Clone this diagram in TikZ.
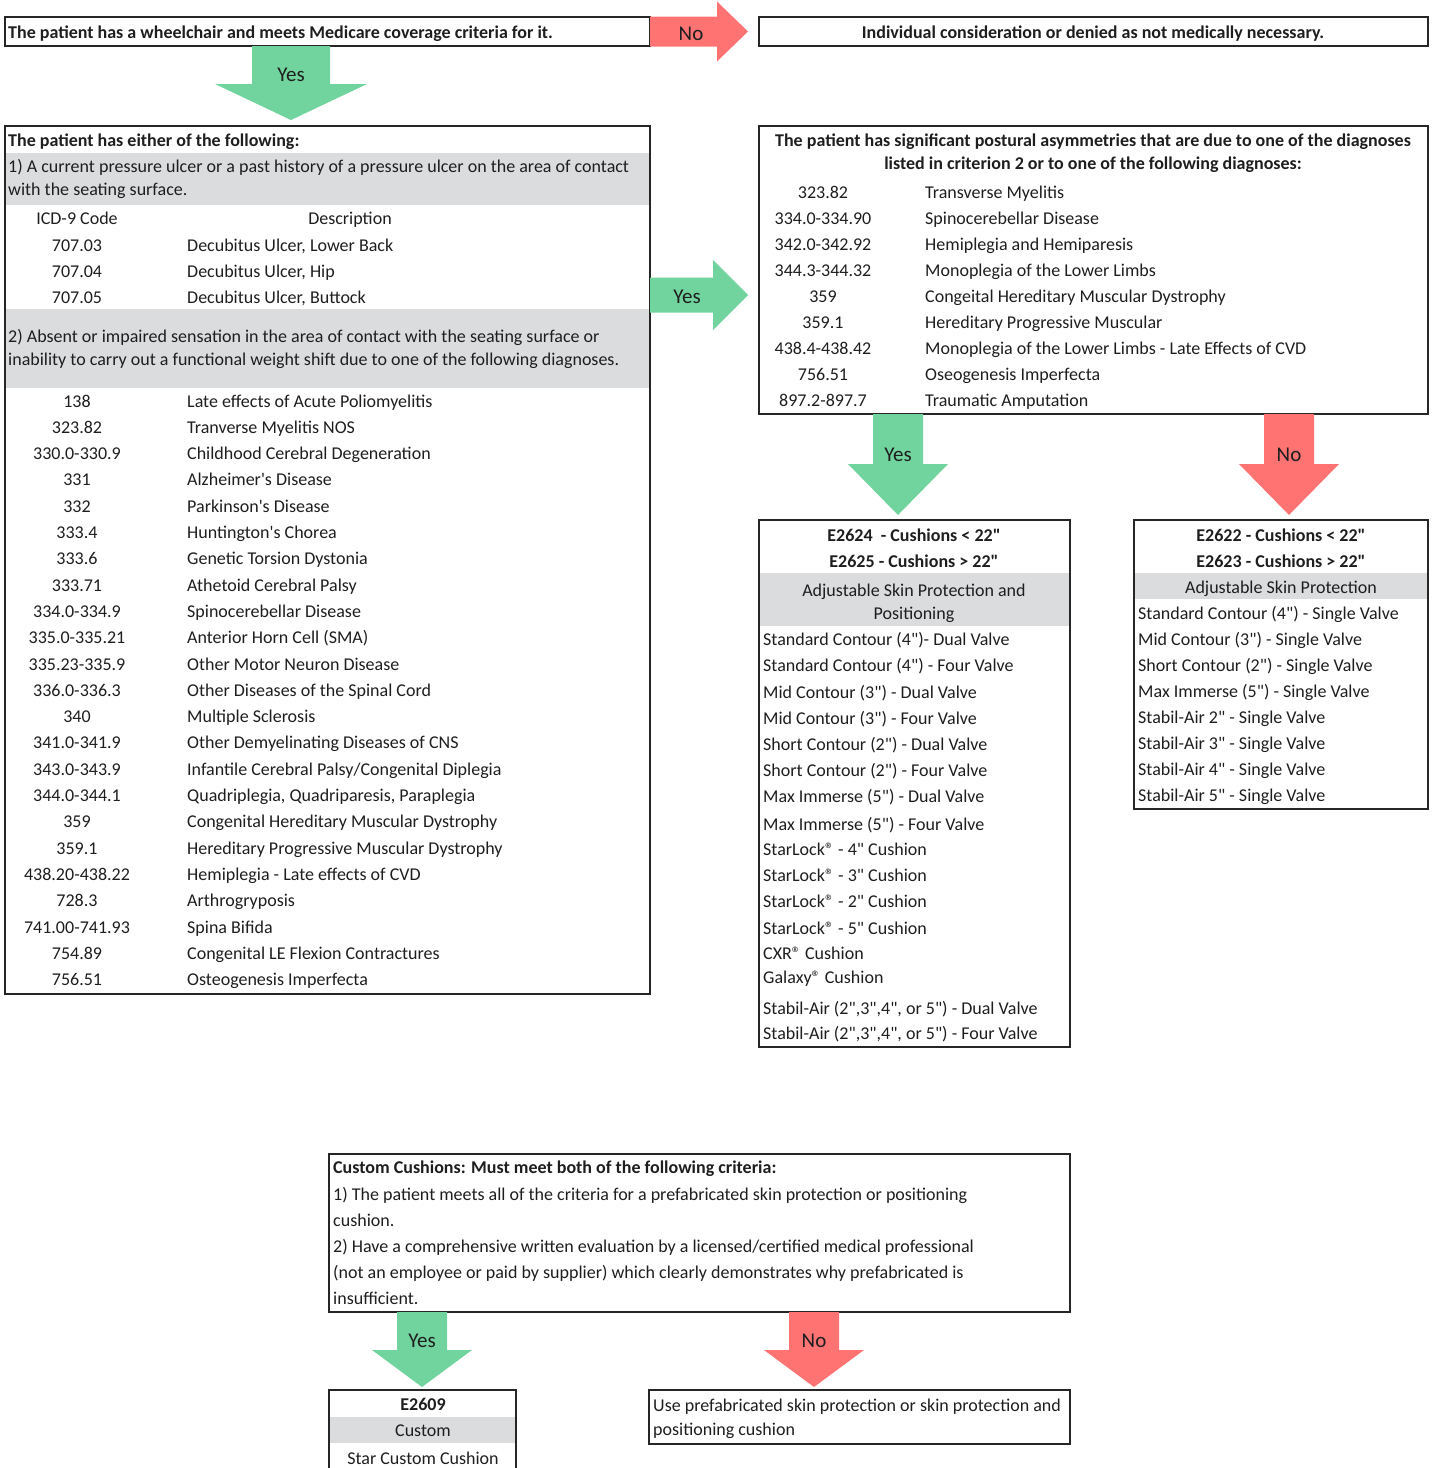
\documentclass[tikz,border=0pt]{standalone}
\usepackage{fontspec}
\setmainfont{Carlito}[Ligatures=TeXOff]
\usetikzlibrary{calc}

\definecolor{yesgreen}{RGB}{113,212,158}
\definecolor{nored}{RGB}{255,115,115}
\definecolor{bandgray}{RGB}{219,220,222}
\definecolor{inkgray}{RGB}{38,38,38}
\definecolor{textgray}{RGB}{30,30,30}

\tikzset{
  box/.style={draw=inkgray, line width=2.6pt, anchor=north west, inner sep=0pt, outer sep=0pt},
  txt/.style={anchor=base west, inner sep=0pt, text=textgray, font=\fontsize{18}{20}\selectfont},
  btxt/.style={txt, font=\fontsize{18}{20}\selectfont\bfseries},
  ctxt/.style={txt, anchor=base},
  cbtxt/.style={btxt, anchor=base},
  band/.style={fill=bandgray},
  yesfill/.style={fill=yesgreen},
  nofill/.style={fill=nored},
  arrowlabel/.style={inner sep=0pt, text=textgray, font=\fontsize{21}{23}\selectfont},
}

% fat arrows: style, start, tip, shaft half width, head half width, head length, label
\newcommand{\blockdown}[7]{%
  \fill[#1] let \p1=(#2), \p2=(#3) in
    (\x1-#4pt,\y1) -- (\x1+#4pt,\y1) -- (\x1+#4pt,\y2+#6pt) -- (\x1+#5pt,\y2+#6pt)
    -- (\x1,\y2) -- (\x1-#5pt,\y2+#6pt) -- (\x1-#4pt,\y2+#6pt) -- cycle;
  \path let \p1=(#2), \p2=(#3) in node[arrowlabel] (#2lab) at (\x1,\y2+#6pt+9pt) {#7};
}
\newcommand{\blockright}[7]{%
  \fill[#1] let \p1=(#2), \p2=(#3) in
    (\x1,\y1+#4pt) -- (\x2-#6pt,\y1+#4pt) -- (\x2-#6pt,\y1+#5pt) -- (\x2,\y1)
    -- (\x2-#6pt,\y1-#5pt) -- (\x2-#6pt,\y1-#4pt) -- (\x1,\y1-#4pt) -- cycle;
  \path let \p1=(#2), \p2=(#3) in node[arrowlabel] (#2lab) at (\x2-#6pt-26pt,\y1-2pt) {#7};
}

\begin{document}
\begin{tikzpicture}[x=1pt,y=-1pt]
  \useasboundingbox (0,0) rectangle (1433,1468);

  % gray bands
  \fill[band] (5,153) rectangle (650,205);
  \fill[band] (5,309) rectangle (650,388);
  \fill[band] (759,573) rectangle (1070,626);
  \fill[band] (1134,573) rectangle (1428,599);
  \fill[band] (329,1417) rectangle (516,1443);

  % boxes
  \node[box, minimum width=645, minimum height=29] (wheel) at (5,17) {};
  \node[box, minimum width=669, minimum height=29] (denied) at (759,17) {};
  \node[box, minimum width=645, minimum height=868] (crit) at (5,126) {};
  \node[box, minimum width=669, minimum height=288] (postural) at (759,126) {};
  \node[box, minimum width=311, minimum height=527] (adjpos) at (759,520) {};
  \node[box, minimum width=294, minimum height=289] (adjskin) at (1134,520) {};
  \node[box, minimum width=741, minimum height=158] (custom) at (329,1154) {};
  \node[box, draw=none, minimum width=187, minimum height=78] (star) at (329,1390) {};
  \draw[inkgray, line width=2.6pt] (star.south west) -- (star.north west) -- (star.north east) -- (star.south east);
  \node[box, minimum width=421, minimum height=54] (prefab) at (649,1390) {};

  % arrow ends
  \path (wheel.south west) ++(286,0) coordinate (a1);
  \path (crit.north west) ++(286,-6) coordinate (b1);
  \path (wheel.east) coordinate (a2);
  \path (denied.west) ++(-11,0) coordinate (b2);
  \path (crit.north east) ++(0,169) coordinate (a3);
  \path (postural.north west) ++(-11,169) coordinate (b3);
  \path (postural.south west) ++(139,0) coordinate (a4);
  \path (adjpos.north west) ++(139,-5) coordinate (b4);
  \path (postural.south west) ++(530,0) coordinate (a5);
  \path (adjskin.north west) ++(155,-5) coordinate (b5);
  \path (custom.south west) ++(93,0) coordinate (a6);
  \path (star.north west) ++(93,-3) coordinate (b6);
  \path (custom.south west) ++(485,0) coordinate (a7);
  \path (prefab.north west) ++(165,-3) coordinate (b7);

  \blockdown{yesfill}{a1}{b1}{39}{76}{36}{Yes}
  \blockright{nofill}{a2}{b2}{15}{30}{31}{No}
  \blockright{yesfill}{a3}{b3}{17.5}{35}{35}{Yes}
  \blockdown{yesfill}{a4}{b4}{25}{50}{51}{Yes}
  \blockdown{nofill}{a5}{b5}{25}{50}{51}{No}
  \blockdown{yesfill}{a6}{b6}{25}{50}{37}{Yes}
  \blockdown{nofill}{a7}{b7}{25}{50}{37}{No}

  % top row
  \node[btxt] (wheeltxt) at (8,38) {The patient has a wheelchair and meets Medicare coverage criteria for it.};
  \node[cbtxt] (deniedtxt) at (1093,38) {Individual consideration or denied as not medically necessary.};

  % criteria box
  \node[btxt] (crittitle) at (8,146) {The patient has either of the following:};
  \node[txt] (crit1a) at (8,172) {1) A current pressure ulcer or a past history of a pressure ulcer on the area of contact};
  \node[txt] (crit1b) at (8,195) {with the seating surface.};
  \node[ctxt] (icdhead) at (77,224) {ICD-9 Code};
  \node[ctxt] (deschead) at (350,224) {Description};
  \foreach \code/\desc [count=\i from 0] in {707.03/{Decubitus Ulcer, Lower Back}, 707.04/{Decubitus Ulcer, Hip}, 707.05/{Decubitus Ulcer, Buttock}} {
    \node[ctxt] (uc\i) at (77,251+26*\i) {\code};
    \node[txt] (ud\i) at (187,251+26*\i) {\desc};
  }
  \node[txt] (crit2a) at (8,342) {2) Absent or impaired sensation in the area of contact with the seating surface or};
  \node[txt] (crit2b) at (8,365) {inability to carry out a functional weight shift due to one of the following diagnoses.};
  \foreach \code/\desc [count=\i from 0] in {
      138/Late effects of Acute Poliomyelitis,
      323.82/Tranverse Myelitis NOS,
      330.0-330.9/Childhood Cerebral Degeneration,
      331/Alzheimer's Disease,
      332/Parkinson's Disease,
      333.4/Huntington's Chorea,
      333.6/Genetic Torsion Dystonia,
      333.71/Athetoid Cerebral Palsy,
      334.0-334.9/Spinocerebellar Disease,
      335.0-335.21/Anterior Horn Cell (SMA),
      335.23-335.9/Other Motor Neuron Disease,
      336.0-336.3/Other Diseases of the Spinal Cord,
      340/Multiple Sclerosis,
      341.0-341.9/Other Demyelinating Diseases of CNS,
      343.0-343.9/{Infantile Cerebral Palsy/Congenital Diplegia},
      344.0-344.1/{Quadriplegia, Quadriparesis, Paraplegia},
      359/Congenital Hereditary Muscular Dystrophy,
      359.1/Hereditary Progressive Muscular Dystrophy,
      438.20-438.22/Hemiplegia - Late effects of CVD,
      728.3/Arthrogryposis,
      741.00-741.93/Spina Bifida,
      754.89/Congenital LE Flexion Contractures,
      756.51/Osteogenesis Imperfecta} {
    \node[ctxt] (dc\i) at (77,407+26.3*\i) {\code};
    \node[txt] (dd\i) at (187,407+26.3*\i) {\desc};
  }

  % postural box
  \node[cbtxt] (postitle1) at (1093,146) {The patient has significant postural asymmetries that are due to one of the diagnoses};
  \node[cbtxt] (postitle2) at (1093,169) {listed in criterion 2 or to one of the following diagnoses:};
  \foreach \code/\desc [count=\i from 0] in {
      323.82/Transverse Myelitis,
      334.0-334.90/Spinocerebellar Disease,
      342.0-342.92/Hemiplegia and Hemiparesis,
      344.3-344.32/Monoplegia of the Lower Limbs,
      359/Congeital Hereditary Muscular Dystrophy,
      359.1/Hereditary Progressive Muscular,
      438.4-438.42/Monoplegia of the Lower Limbs - Late Effects of CVD,
      756.51/Oseogenesis Imperfecta,
      897.2-897.7/Traumatic Amputation} {
    \node[ctxt] (pc\i) at (823,198+26.1*\i) {\code};
    \node[txt] (pd\i) at (925,198+26.1*\i) {\desc};
  }

  % skin protection and positioning
  \node[cbtxt] (e2624) at (914,541) {E2624\ \ - Cushions < 22"};
  \node[cbtxt] (e2625) at (914,567) {E2625 - Cushions > 22"};
  \node[ctxt] (adjpos1) at (914,596) {Adjustable Skin Protection and};
  \node[ctxt] (adjpos2) at (914,619) {Positioning};
  \foreach \yy/\item [count=\i] in {
      645/{Standard Contour (4")- Dual Valve},
      671/{Standard Contour (4") - Four Valve},
      698/{Mid Contour (3") - Dual Valve},
      724/{Mid Contour (3") - Four Valve},
      750/{Short Contour (2") - Dual Valve},
      776/{Short Contour (2") - Four Valve},
      802/{Max Immerse (5") - Dual Valve},
      830/{Max Immerse (5") - Four Valve},
      855/{StarLock® - 4" Cushion},
      881/{StarLock® - 3" Cushion},
      907/{StarLock® - 2" Cushion},
      934/{StarLock® - 5" Cushion},
      959/{CXR® Cushion},
      983/{Galaxy® Cushion},
      1014/{Stabil-Air (2",3",4", or 5") - Dual Valve},
      1039/{Stabil-Air (2",3",4", or 5") - Four Valve}} {
    \node[txt] (pp\i) at (763,\yy) {\item};
  }

  % skin protection
  \node[cbtxt] (e2622) at (1281,541) {E2622 - Cushions < 22"};
  \node[cbtxt] (e2623) at (1281,567) {E2623 - Cushions > 22"};
  \node[ctxt] (adjskin1) at (1281,593) {Adjustable Skin Protection};
  \foreach \item [count=\i from 0] in {
      {Standard Contour (4") - Single Valve},
      {Mid Contour (3") - Single Valve},
      {Short Contour (2") - Single Valve},
      {Max Immerse (5") - Single Valve},
      {Stabil-Air 2" - Single Valve},
      {Stabil-Air 3" - Single Valve},
      {Stabil-Air 4" - Single Valve},
      {Stabil-Air 5" - Single Valve}} {
    \node[txt] (sp\i) at (1138,619+26.1*\i) {\item};
  }

  % custom cushions
  \node[btxt] (customtitle) at (333,1173) {Custom Cushions: Must meet both of the following criteria:};
  \foreach \line [count=\i from 1] in {
      {1) The patient meets all of the criteria for a prefabricated skin protection or positioning},
      {cushion.},
      {2) Have a comprehensive written evaluation by a licensed/certified medical professional},
      {(not an employee or paid by supplier) which clearly demonstrates why prefabricated is},
      {insufficient.}} {
    \node[txt] (cc\i) at (333,1174+26*\i) {\line};
  }

  \node[cbtxt] (e2609) at (423,1410) {E2609};
  \node[ctxt] (customlbl) at (423,1436) {Custom};
  \node[ctxt] (starcustom) at (423,1464) {Star Custom Cushion};

  \node[txt] (prefab1) at (653,1411) {Use prefabricated skin protection or skin protection and};
  \node[txt] (prefab2) at (653,1435) {positioning cushion};
\end{tikzpicture}
\end{document}
